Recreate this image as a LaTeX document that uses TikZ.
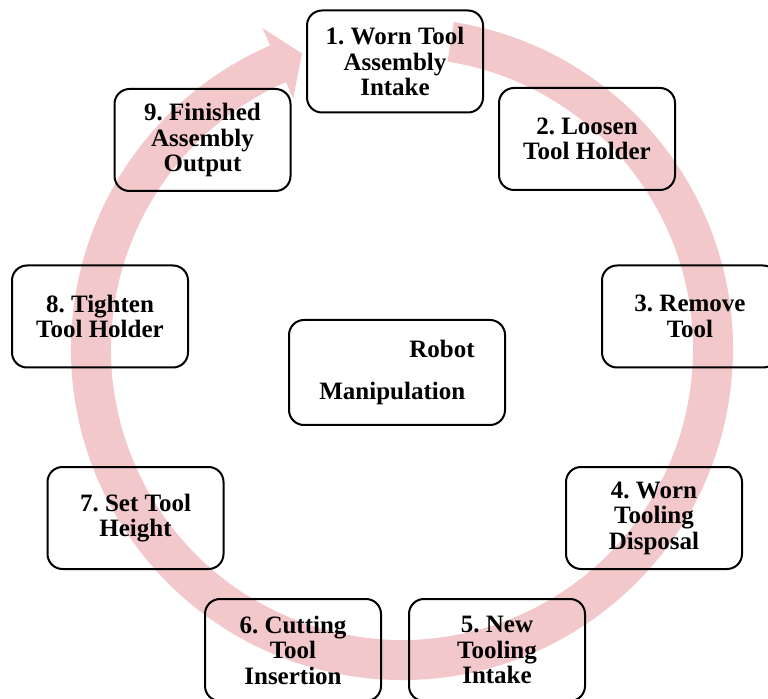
\documentclass[tikz,border=0pt]{standalone}
\usepackage{fontspec}
\setmainfont{Liberation Serif}
\usepackage{tikz}
\usetikzlibrary{positioning}
\usetikzlibrary{calc}

\definecolor{ringpink}{RGB}{242,200,202}
\frenchspacing

\begin{document}
\begin{tikzpicture}[
    x=0.6pt, y=0.6pt,
    stagebox/.style={draw, line width=1.2pt, rounded corners=9pt,
    minimum width=105.6pt, minimum height=61.2pt, align=center,
    font=\bfseries\fontsize{15}{15.3}\selectfont},
    centerbox/.style={stagebox, minimum width=129.6pt, minimum height=63pt, align=left},
    ]

    \useasboundingbox (0,0) rectangle (768,698);

    % the cycle arrow behind the boxes
    \fill[ringpink, shift={(402,349)}] (81:331) arc[start angle=81, end angle=-246.5, radius=331]
        -- (-246.5:350) -- (-251.3:312) -- (-246.5:273) -- (-246.5:291)
        arc[start angle=-246.5, end angle=81, radius=291] -- cycle;

    \node[stagebox] (s1) at (395,636.5) {1. Worn Tool\\Assembly\\Intake};
    \node[stagebox] (s2) at (587,559) {2. Loosen\\Tool Holder};
    \node[stagebox] (s3) at (690,381.5) {3. Remove\\Tool};
    \node[stagebox] (s4) at (654,180) {4. Worn\\Tooling\\Disposal};
    \node[stagebox] (s5) at (497,48) {5. New\\Tooling\\Intake};
    \node[stagebox] (s6) at (293,48) {6. Cutting\\Tool\\Insertion};
    \node[stagebox] (s7) at (135.5,180) {7. Set Tool\\Height};
    \node[stagebox] (s8) at (100,381.5) {8. Tighten\\Tool Holder};
    \node[stagebox] (s9) at (202.5,558) {9. Finished\\Assembly\\Output};

    \node[centerbox] (robot) at (397,325.5) {\hspace*{54pt}Robot\\[10pt]Manipulation};
\end{tikzpicture}
\end{document}
